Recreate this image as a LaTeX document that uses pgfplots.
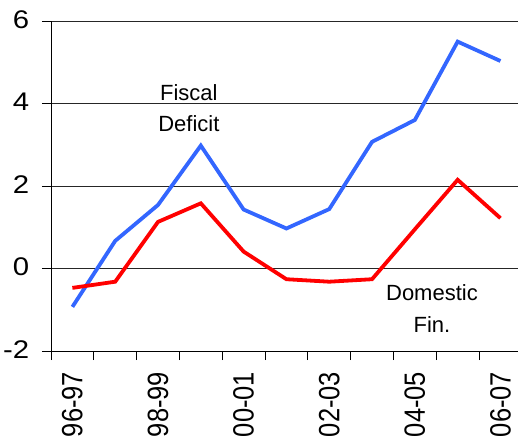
\documentclass[border=0pt]{standalone}
\usepackage{pgfplots}
\pgfplotsset{compat=1.18}
\usepackage{fontspec}
\setmainfont{Liberation Sans}
\usepackage{graphicx}

\definecolor{fiscalblue}{RGB}{51,102,255}
\definecolor{domred}{RGB}{255,0,0}

% slightly widened tick label glyphs
\newcommand\sy[1]{\scalebox{1.15}[1]{#1}}
\newcommand\sx[1]{\scalebox{1}[1.15]{#1}}

\begin{document}
\begin{tikzpicture}
\path[use as bounding box] (-51pt,-92pt) rectangle (467pt,351pt);
\begin{axis}[
  scale only axis,
  width=467pt, height=330pt,
  xmin=-0.5, xmax=10.41,
  ymin=-2, ymax=6,
  axis x line*=bottom,
  axis y line*=left,
  axis line style={black, line width=0.8pt},
  tick align=outside,
  major tick length=9pt,
  tick style={black, line width=0.8pt},
  xtick={-0.5,0.5,...,9.5},
  xticklabels={},
  extra x ticks={0,2,4,6,8,10},
  extra x tick labels={\sx{96-97},\sx{98-99},\sx{00-01},\sx{02-03},\sx{04-05},\sx{06-07}},
  extra x tick style={major tick length=0pt, grid=none,
    tick label style={rotate=90, anchor=east, inner sep=0pt, xshift=-20.7pt,
      font=\fontsize{25.5}{28}\selectfont}},
  ytick={-2,0,2,4,6},
  yticklabels={\sy{-2},\sy{0},\sy{2},\sy{4},\sy{6}},
  yticklabel style={anchor=east, inner sep=0pt, xshift=-12.7pt, yshift=1.5pt,
    font=\fontsize{25.5}{28}\selectfont},
  ymajorgrids,
  grid style={black!85, line width=0.8pt},
  clip=true,
]
\addplot[color=fiscalblue, line width=3.8pt] coordinates {
  (0,-0.93) (1,0.67) (2,1.54) (3,2.98) (4,1.43) (5,0.97)
  (6,1.44) (7,3.07) (8,3.60) (9,5.50) (10,5.03)
};
\addplot[color=domred, line width=3.8pt] coordinates {
  (0,-0.47) (1,-0.32) (2,1.13) (3,1.58) (4,0.41) (5,-0.26)
  (6,-0.32) (7,-0.26) (8,0.95) (9,2.15) (10,1.22)
};
\node[align=center, font=\fontsize{22}{31}\selectfont] at (axis cs:2.72,3.89) {Fiscal\\Deficit};
\node[align=center, font=\fontsize{22}{32}\selectfont] at (axis cs:8.40,-0.98) {Domestic\\Fin.};
\end{axis}
\end{tikzpicture}
\end{document}
